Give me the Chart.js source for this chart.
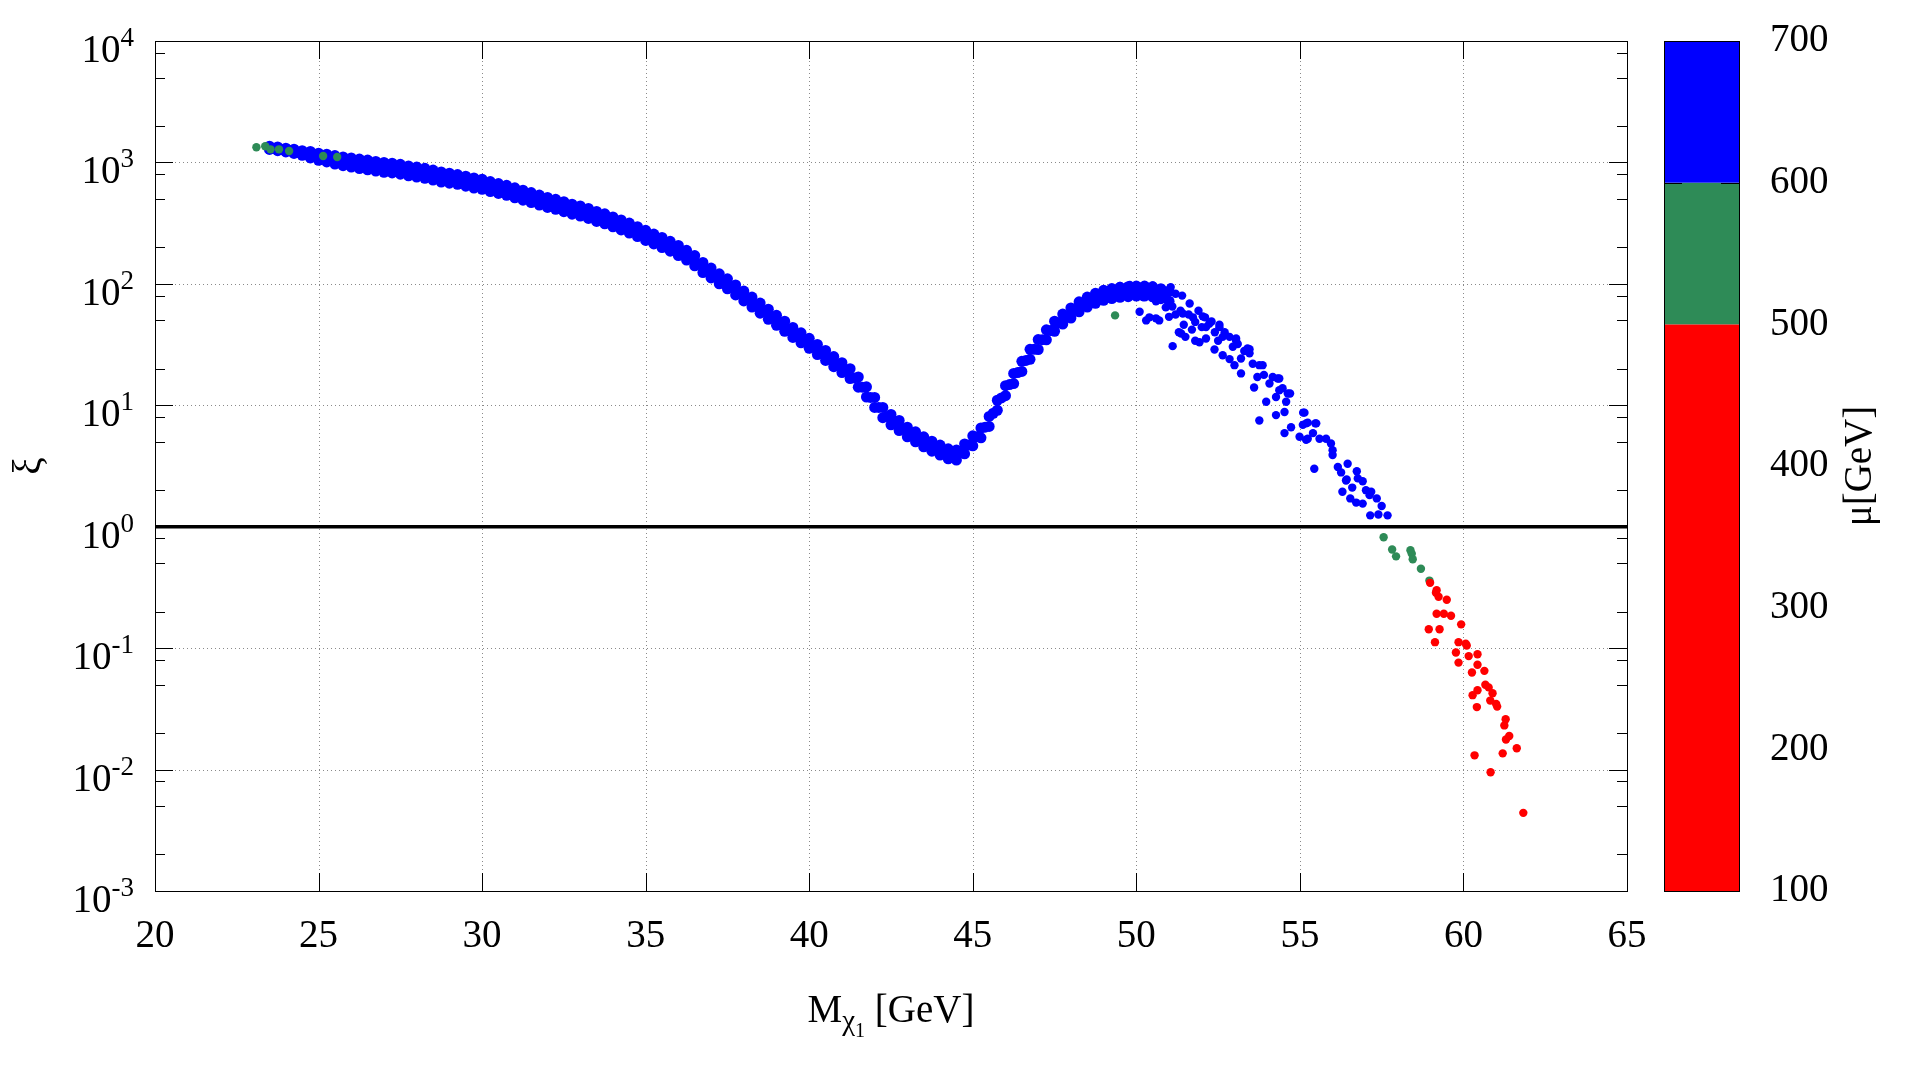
<!DOCTYPE html>
<html>
<head>
<meta charset="utf-8">
<script src="https://cdn.jsdelivr.net/npm/chart.js@4.4.1/dist/chart.umd.min.js"></script>
<style>
    html, body { margin: 0; padding: 0; background: #fff; }
    #wrap { width: 1920px; height: 1080px; }
</style>
</head>
<body>
<div id="wrap"><canvas id="chart" width="1920" height="1080"></canvas></div>
<script>
// axis ticks
const xTicks = [20, 25, 30, 35, 40, 45, 50, 55, 60, 65];
const yTickExps = [-3, -2, -1, 0, 1, 2, 3, 4];
const yMinor = [2, 5, 8];
const cbTicks = [100, 200, 300, 400, 500, 600, 700];
const cbTickMarks = [600];
// colour box: mu ranges [from, to, colour]
const cbBands = [[100, 500, '#ff0000'], [500, 600, '#2e8b57'], [600, 700, '#0000ff']];

// blue points, main band (upper edge, lower edge, centre)
const bandUpper = [[23.5,1360],[23.75,1340],[24,1310],[24.25,1285],[24.5,1250],[24.75,1230],[25,1190],[25.25,1170],[25.5,1140],[25.75,1110],[26,1090],[26.25,1065],[26.5,1045],[26.75,1020],[27,1000],[27.25,985],[27.5,965],[27.75,935],[28,915],[28.25,895],[28.5,865],[28.75,835],[29,815],[29.25,795],[29.5,770],[29.75,745],[30,727],[30.25,695],[30.5,670],[30.75,648],[31,618],[31.25,590],[31.5,565],[31.75,539],[32,515],[32.25,497],[32.5,475],[32.75,453],[33,438],[33.25,418],[33.5,395],[33.75,377],[34,356],[34.25,336],[34.5,317],[34.75,296],[35,276],[35.25,257],[35.5,241],[35.75,224],[36,207],[36.25,189],[36.5,171],[36.75,150],[37,135],[37.25,121],[37.5,110],[37.75,98],[38,87.3],[38.25,77.9],[38.5,69.4],[38.75,61.8],[39,55.1],[39.25,49.2],[39.5,43.8],[39.75,39.5],[40,35.6],[40.25,31.7],[40.5,28.3],[40.75,25.2],[41,22.4],[41.25,20],[41.5,17.1],[41.75,14.2],[42,11.6],[42.25,9.6],[42.5,8.4],[42.75,7.5],[43,6.6],[43.25,6.05],[43.5,5.5],[43.75,5.06],[44,4.7],[44.25,4.38],[44.5,4.28],[44.75,4.8],[45,5.6],[45.25,6.5],[45.5,8.1],[45.75,11],[46,14.5],[46.25,18.3],[46.5,23],[46.75,28.9],[47,34.8],[47.25,41.8],[47.5,49.2],[47.75,56.4],[48,63.3],[48.25,71.1],[48.5,77.9],[48.75,83.5],[49,88.4],[49.25,91.5],[49.5,93.6],[49.75,94.7],[50,95.8],[50.25,95.8],[50.5,94.6],[50.75,91.3],[51,86.9]];
const bandLower = [[23.5,1280],[23.75,1250],[24,1220],[24.25,1185],[24.5,1145],[24.75,1090],[25,1040],[25.25,1010],[25.5,970],[25.75,940],[26,915],[26.25,890],[26.5,870],[26.75,850],[27,830],[27.25,820],[27.5,800],[27.75,775],[28,757],[28.25,740],[28.5,715],[28.75,690],[29,675],[29.25,660],[29.5,637],[29.75,615],[30,601],[30.25,575],[30.5,555],[30.75,536],[31,511],[31.25,489],[31.5,467],[31.75,446],[32,426],[32.25,411],[32.5,393],[32.75,375],[33,362],[33.25,346],[33.5,327],[33.75,312],[34,295],[34.25,278],[34.5,262],[34.75,245],[35,228],[35.25,213],[35.5,199],[35.75,186],[36,171],[36.25,157],[36.5,141],[36.75,124],[37,112],[37.25,100],[37.5,91],[37.75,81],[38,72.3],[38.25,64.4],[38.5,57.4],[38.75,51.1],[39,45.6],[39.25,40.7],[39.5,36.2],[39.75,32.7],[40,29.5],[40.25,26.2],[40.5,23.4],[40.75,20.8],[41,18.6],[41.25,16.6],[41.5,14.1],[41.75,11.7],[42,9.6],[42.25,7.9],[42.5,6.9],[42.75,6.2],[43,5.5],[43.25,5],[43.5,4.55],[43.75,4.19],[44,3.89],[44.25,3.62],[44.5,3.54],[44.75,3.98],[45,4.64],[45.25,5.4],[45.5,6.7],[45.75,9.1],[46,12],[46.25,15.1],[46.5,19],[46.75,23.9],[47,28.8],[47.25,34.6],[47.5,40.7],[47.75,46.7],[48,52.3],[48.25,58.8],[48.5,64.4],[48.75,69.1],[49,73.2],[49.25,75.7],[49.5,77.4],[49.75,78.4],[50,79.3],[50.25,79.3],[50.5,78.3],[50.75,75.5],[51,71.9]];
const bandCenter = [[23.625,1305],[23.875,1275],[24.125,1245],[24.375,1210],[24.625,1170],[24.875,1130],[25.125,1098],[25.375,1068],[25.625,1035],[25.875,1010],[26.125,988],[26.375,966],[26.625,944],[26.875,922],[27.125,907],[27.375,891],[27.625,866],[27.875,841],[28.125,822],[28.375,799],[28.625,772],[28.875,750],[29.125,732],[29.375,712],[29.625,688],[29.875,668],[30.125,646],[30.375,620],[30.625,599],[30.875,575],[31.125,549],[31.375,525],[31.625,501],[31.875,479],[32.125,460],[32.375,442],[32.625,422],[32.875,405],[33.125,389],[33.375,369],[33.625,351],[33.875,333],[34.125,314],[34.375,296],[34.625,278],[34.875,260],[35.125,242],[35.375,226],[35.625,211],[35.875,196],[36.125,180],[36.375,163],[36.625,145],[36.875,129],[37.125,116],[37.375,105],
    [37.625,94],[37.875,84],[38.125,75],[38.375,67],[38.625,59.6],[38.875,53],[39.125,47.3],[39.375,42.2],[39.625,37.8],[39.875,34.1],[40.125,30.5],[40.375,27.2],[40.625,24.3],[40.875,21.6],[41.125,19.3],[41.375,16.8],[41.625,14.1],[41.875,11.6],[42.125,9.6],[42.375,8.1],[42.625,7.2],[42.875,6.4],[43.125,5.75],[43.375,5.25],[43.625,4.8],[43.875,4.45],[44.125,4.1],[44.375,3.9],[44.625,4.05],[44.875,4.7],[45.125,5.5],[45.375,6.6],[45.625,8.6],[45.875,11.5],[46.125,14.8],[46.375,18.6],[46.625,23.4],[46.875,28.9],[47.125,34.7],[47.375,41.2],[47.625,47.9],[47.875,54.4],[48.125,61],[48.375,67.7],
    [48.625,73.3],[48.875,78.1],[49.125,81.8],[49.375,84.1],[49.625,85.6],[49.875,86.6],[50.125,87.1],[50.375,86.5],[50.625,84.5],[50.875,81]];
// scattered blue points past the peak
const blueScatter = [[49.5,96],[49.8,98],[50.5,97],[51.05,94],[50.9,88],[51.2,83],[51.4,80],[51.63,69],[51.9,60],[52.03,54],[52.1,53],[52.3,49],[52.54,46],[53.05,35.5],[53.46,29],[53.86,21.4],[54.37,16.6],[54.7,12.5],
    [50.1,59],[50.3,50],[50.6,52],[51.0,53.5],[50.4,53],[50.7,50],[50.2,78],[50.6,72],[50.9,64],[51.2,56],[51.1,65],[51.35,60],[51.6,56],[51.42,57],[51.73,53],[51.45,46],[51.7,42],[52.0,44],[52.4,40],[52.7,40],[52.5,34],[53.1,32],[53.3,28],
    [51.11,30.7],[51.3,40],[51.37,39],[51.5,36.6],[51.8,48.6],[51.8,34],[51.93,33],[52.13,35.5],[52.13,44],[52.23,47],[52.39,28.8],[52.54,44],[52.64,36.6],[52.64,25.8],[52.85,24],[52.85,36.6],[52.95,30.3],[53.0,21.4],[53.05,34],[53.2,24.3],[53.2,18.3],[53.4,29.4],[53.46,26.8],[53.56,22],[53.6,14],[53.7,17.1],[53.76,21.4],[53.76,7.5],[53.9,17.8],[53.97,10.7],[54.07,15.1],[54.17,17.1],[54.27,8.3],[54.27,11.7],[54.32,16.6],[54.37,13.3],[54.47,13.8],[54.53,8.8],[54.53,5.9],[54.58,10.7],[54.63,12.5],[54.73,6.6],[54.99,5.5],
    [55.09,6.9],[55.1,8.7],[55.14,8.7],[55.19,7.1],[55.19,5.2],[55.24,7.2],[55.24,5.3],[55.4,5.9],[55.44,3.0],[55.47,7.1],[55.5,7.1],[55.6,5.3],[55.8,5.3],[55.95,4.85],[56.0,4.27],[56.0,3.9],[56.16,3.1],[56.26,2.8],[56.3,1.94],[56.41,2.4],[56.43,2.45],[56.46,3.3],[56.54,1.71],[56.6,2.1],[56.72,1.58],[56.74,2.86],[56.77,2.5],[56.92,2.37],[56.92,1.55],[57.02,2.0],[57.13,1.82],[57.15,1.24],[57.18,1.94],[57.35,1.71],[57.4,1.26],[57.5,1.48],[57.68,1.24]];
// green points (500 < mu < 600)
const greenPts = [[23.1,1333],[23.37,1358],[23.53,1282],[23.79,1282],[24.1,1242],[25.14,1130],[25.57,1109],[49.35,55],[57.56,0.82],[57.82,0.65],[57.94,0.57],[58.38,0.64],[58.42,0.6],[58.45,0.54],[58.7,0.45],[58.96,0.36]];
// red points (mu < 500)
const redPts = [[58.98,0.345],[59.18,0.3],[59.16,0.286],[59.24,0.265],[59.49,0.25],[59.18,0.192],[59.4,0.192],[59.62,0.185],[59.93,0.157],[58.94,0.143],[59.27,0.143],[59.13,0.112],[59.85,0.112],[60.07,0.109],[60.1,0.105],[59.77,0.092],[60.16,0.086],[60.43,0.089],[59.85,0.076],[60.43,0.073],[60.26,0.063],[60.64,0.065],[60.67,0.05],[60.77,0.0475],[60.89,0.0425],[60.43,0.045],[60.28,0.041],[60.82,0.037],[61.0,0.0347],[61.03,0.033],[60.41,0.0327],[61.29,0.026],[61.25,0.0231],[61.4,0.0189],[61.3,0.0177],[61.63,0.015],[61.2,0.0136],[60.34,0.0131],[60.83,0.0095],[61.83,0.0044]];
// reference line xi = 1
const xiLine = [[20, 1], [65, 1]];

const serif = "'Liberation Serif', 'DejaVu Serif', serif";
const toXY = pts => pts.map(p => ({ x: p[0], y: p[1] }));

function line(ctx, x1, y1, x2, y2) {
    ctx.beginPath();
    ctx.moveTo(x1, y1);
    ctx.lineTo(x2, y2);
    ctx.stroke();
}

// grid, frame, tics, labels and colour box in gnuplot style
const gnuplotLook = {
    id: 'gnuplotLook',
    beforeDatasetsDraw(chart) {
        const { ctx, chartArea: a, scales: { x, y } } = chart;
        ctx.save();
        ctx.strokeStyle = '#8a8a8a';
        ctx.lineWidth = 1;
        ctx.setLineDash([1, 3]);
        xTicks.slice(1, -1).forEach(v => {
            const px = Math.round(x.getPixelForValue(v)) + 0.5;
            line(ctx, px, a.top, px, a.bottom);
        });
        yTickExps.slice(1, -1).forEach(e => {
            const py = Math.round(y.getPixelForValue(Math.pow(10, e))) + 0.5;
            line(ctx, a.left, py, a.right, py);
        });
        ctx.restore();
    },
    afterDatasetsDraw(chart) {
        const { ctx, chartArea: a, scales: { x, y, mu } } = chart;
        ctx.save();
        ctx.strokeStyle = '#000';
        ctx.fillStyle = '#000';
        ctx.lineWidth = 1;

        // tics on all four sides
        xTicks.forEach(v => {
            const px = Math.round(x.getPixelForValue(v)) + 0.5;
            line(ctx, px, a.bottom, px, a.bottom - 18);
            line(ctx, px, a.top, px, a.top + 18);
        });
        yTickExps.forEach(e => {
            const py = Math.round(y.getPixelForValue(Math.pow(10, e))) + 0.5;
            line(ctx, a.left, py, a.left + 18, py);
            line(ctx, a.right, py, a.right - 18, py);
            if (e === 4) return;
            yMinor.forEach(m => {
                const pm = Math.round(y.getPixelForValue(m * Math.pow(10, e))) + 0.5;
                line(ctx, a.left, pm, a.left + 10, pm);
                line(ctx, a.right, pm, a.right - 10, pm);
            });
        });
        ctx.strokeRect(Math.round(a.left) + 0.5, Math.round(a.top) + 0.5,
            Math.round(a.right - a.left), Math.round(a.bottom - a.top));

        // y tick labels 10^n
        ctx.textAlign = 'left';
        ctx.textBaseline = 'alphabetic';
        yTickExps.forEach(e => {
            const py = y.getPixelForValue(Math.pow(10, e));
            const sup = String(e);
            ctx.font = `27px ${serif}`;
            const wSup = ctx.measureText(sup).width;
            ctx.font = `39px ${serif}`;
            const wBase = ctx.measureText('10').width;
            const right = a.left - 21;
            ctx.fillText('10', right - wSup - wBase, py + 21);
            ctx.font = `27px ${serif}`;
            ctx.fillText(sup, right - wSup, py + 5);
        });

        // x axis title M_chi1 [GeV]
        const parts = [['M', 39, 0], ['\u03c7', 29, 8], ['1', 20, 15], [' [GeV]', 39, 0]];
        let total = 0;
        parts.forEach(p => { ctx.font = `${p[1]}px ${serif}`; p.push(ctx.measureText(p[0]).width); total += p[3]; });
        let cx = (a.left + a.right) / 2 - total / 2;
        parts.forEach(p => {
            ctx.font = `${p[1]}px ${serif}`;
            ctx.fillText(p[0], cx, 1022 + p[2]);
            cx += p[3];
        });

        // y axis title
        ctx.font = `39px ${serif}`;
        ctx.textAlign = 'center';
        ctx.textBaseline = 'middle';
        ctx.save();
        ctx.translate(30, (a.top + a.bottom) / 2);
        ctx.rotate(-Math.PI / 2);
        ctx.fillText('\u03be', 0, 0);
        ctx.restore();

        // colour box
        const cbLeft = 1664, cbWidth = 75;
        cbBands.forEach(([lo, hi, col]) => {
            const y1 = mu.getPixelForValue(hi);
            const y2 = mu.getPixelForValue(lo);
            ctx.fillStyle = col;
            ctx.fillRect(cbLeft, y1, cbWidth, y2 - y1);
        });
        ctx.fillStyle = '#000';
        cbTickMarks.forEach(v => {
            const py = Math.round(mu.getPixelForValue(v)) + 0.5;
            line(ctx, cbLeft, py, cbLeft + 18, py);
            line(ctx, cbLeft + cbWidth, py, cbLeft + cbWidth - 18, py);
        });
        ctx.strokeRect(cbLeft + 0.5, Math.round(mu.top) + 0.5, cbWidth, Math.round(mu.bottom - mu.top));
        ctx.textAlign = 'left';
        cbTicks.forEach(v => {
            ctx.fillText(String(v), 1770, mu.getPixelForValue(v));
        });
        ctx.save();
        ctx.translate(1861, (a.top + a.bottom) / 2);
        ctx.rotate(-Math.PI / 2);
        ctx.textAlign = 'center';
        ctx.fillText('\u03bc[GeV]', 0, 0);
        ctx.restore();

        ctx.restore();
    }
};

const dot = (pts, color, order, r) => ({
    data: toXY(pts),
    backgroundColor: color,
    pointRadius: r,
    pointBorderWidth: 0,
    pointHoverRadius: r,
    order: order
});

new Chart(document.getElementById('chart'), {
    type: 'scatter',
    data: {
        datasets: [
            {
                data: toXY(xiLine),
                showLine: true,
                borderColor: '#000',
                borderWidth: 3.5,
                pointRadius: 0,
                order: 9
            },
            dot(bandUpper, '#0000ff', 5, 5.5),
            dot(bandLower, '#0000ff', 5, 5.5),
            dot(bandCenter, '#0000ff', 5, 5.5),
            dot(blueScatter, '#0000ff', 4, 4.2),
            dot(greenPts, '#2e8b57', 2, 4.2),
            dot(redPts, '#ff0000', 1, 4.2)
        ]
    },
    options: {
        responsive: false,
        animation: false,
        events: [],
        layout: { padding: { left: 0, right: 293, top: 41, bottom: 0 } },
        plugins: {
            legend: { display: false },
            tooltip: { enabled: false }
        },
        scales: {
            x: {
                type: 'linear',
                min: 20,
                max: 65,
                grid: { display: false, drawTicks: false },
                border: { display: false },
                ticks: {
                    stepSize: 5,
                    autoSkip: false,
                    maxRotation: 0,
                    padding: 22,
                    color: '#000',
                    font: { family: serif, size: 39 }
                },
                afterFit(scale) { scale.height = 189; }
            },
            y: {
                type: 'logarithmic',
                min: 1e-3,
                max: 1e4,
                grid: { display: false, drawTicks: false },
                border: { display: false },
                ticks: { display: false },
                afterFit(scale) { scale.width = 155; }
            },
            mu: {
                type: 'linear',
                axis: 'y',
                position: 'right',
                min: 100,
                max: 700,
                display: false
            }
        }
    },
    plugins: [gnuplotLook]
});
</script>
</body>
</html>
